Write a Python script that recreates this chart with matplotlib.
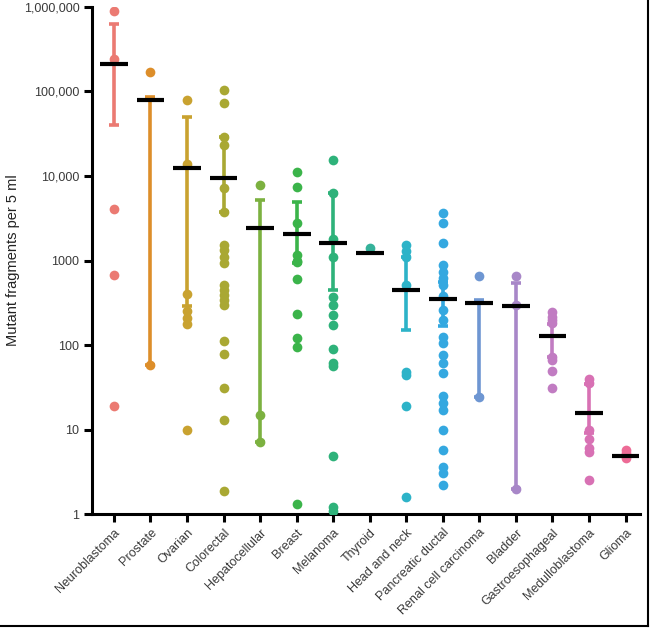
import matplotlib
matplotlib.use("Agg")
from matplotlib import pyplot as plt
from matplotlib.lines import Line2D

categories = ["Neuroblastoma", "Prostate", "Ovarian", "Colorectal", "Hepatocellular",
              "Breast", "Melanoma", "Thyroid", "Head and neck", "Pancreatic ductal",
              "Renal cell carcinoma", "Bladder", "Gastroesophageal", "Medulloblastoma", "Glioma"]

# individual patient values (mutant fragments per 5 ml)
points = [
    [904000, 240000, 4050, 680, 19],
    [170000, 58],
    [80000, 13800, 400, 250, 208, 178, 9.8],
    [103000, 72600, 29200, 23300, 7180, 3790, 1530, 1335, 1114, 930, 515, 450, 392,
     343, 299, 113, 79, 31, 13, 1.9],
    [7850, 14.9, 7.1],
    [11000, 7400, 2750, 1170, 1000, 950, 600, 235, 120, 95, 1.3],
    [15500, 6270, 1800, 1100, 375, 300, 227, 173, 89, 62, 57, 4.8, 1.2, 1.1],
    [1390],
    [1530, 1300, 1110, 515, 48, 44, 19, 1.6],
    [3630, 2810, 1630, 890, 740, 620, 515, 380, 261, 199, 126, 105, 77, 61, 47,
     25, 20.6, 17, 9.8, 5.8, 3.6, 3.05, 2.2],
    [660, 24],
    [660, 300, 2.0],
    [245, 217, 200, 180, 73, 66, 49, 31],
    [39.8, 36, 9.9, 7.7, 6.0, 5.4, 2.5],
    [5.8, 5.3, 4.6],
]
means = [210000, 79400, 12400, 9570, 2415, 2050, 1600, 1222, 450, 349, 318, 291, 129, 15.9, 4.9]
err_low = [40200, 58, 291, 3790, 7.1, 930, 450, 1222, 151, 166, 24, 2.0, 73, 9.0, 4.9]
err_high = [624000, 85500, 50000, 29200, 5210, 4980, 6270, 1222, 1110, 564, 340, 538, 178, 35, 4.9]

colors = ["#EB7A72", "#DD8E2A", "#C9A230", "#A9A833", "#7CB140", "#3BB44A", "#2EB27A",
          "#35B29A", "#2DB3C8", "#34A8E0", "#6E96D2", "#A887C8", "#C17CC2", "#D871B4", "#ED6B96"]

plt.rcParams['font.family'] = ['Liberation Sans', 'DejaVu Sans']

fig = plt.figure(figsize=(6.51, 6.30), dpi=100)
ax = fig.add_axes([0.1413, 0.184, 0.842, 0.805])

for i, cat in enumerate(categories):
    c = colors[i]
    if err_high[i] > err_low[i]:
        ax.errorbar(i, means[i], yerr=[[means[i] - err_low[i]], [err_high[i] - means[i]]],
                    fmt="none", ecolor=c, elinewidth=2.6, capsize=3.5, capthick=2.6, zorder=2)
    ax.plot([i] * len(points[i]), points[i], "o", color=c, markersize=7,
            markeredgewidth=0, zorder=3)
    ax.plot([i - 0.38, i + 0.38], [means[i], means[i]], "-", color="black",
            linewidth=3, solid_capstyle="butt", zorder=4)

ax.set_yscale("log")
ax.set_ylim(1, 1e6)
ax.set_xlim(-0.6, 14.4)
yt = [1, 10, 100, 1000, 10000, 100000, 1000000]
ax.set_yticks(yt)
ax.set_yticklabels(["1", "10", "100", "1000", "10,000", "100,000", "1,000,000"])
ax.minorticks_off()
ax.set_xticks(range(len(categories)))
ax.set_xticklabels(categories, rotation=45, ha="right", rotation_mode="anchor")

for s in ["top", "right"]:
    ax.spines[s].set_visible(False)
for s in ["left", "bottom"]:
    ax.spines[s].set_linewidth(2.2)
ax.tick_params(axis="both", direction="out", length=6, width=2.2, colors="black",
               labelcolor="#3a3a3a", labelsize=9, pad=3)
ax.set_ylabel("Mutant fragments per 5 ml", fontsize=10.5, color="#222222", labelpad=3)

# frame line on right and bottom of figure
fig.add_artist(Line2D([0.9955, 0.9955], [0.007, 1.0], color="black", linewidth=1.5,
                      transform=fig.transFigure))
fig.add_artist(Line2D([0.0, 0.9955], [0.007, 0.007], color="black", linewidth=1.5,
                      transform=fig.transFigure))

fig.savefig("out.png", dpi=100)
